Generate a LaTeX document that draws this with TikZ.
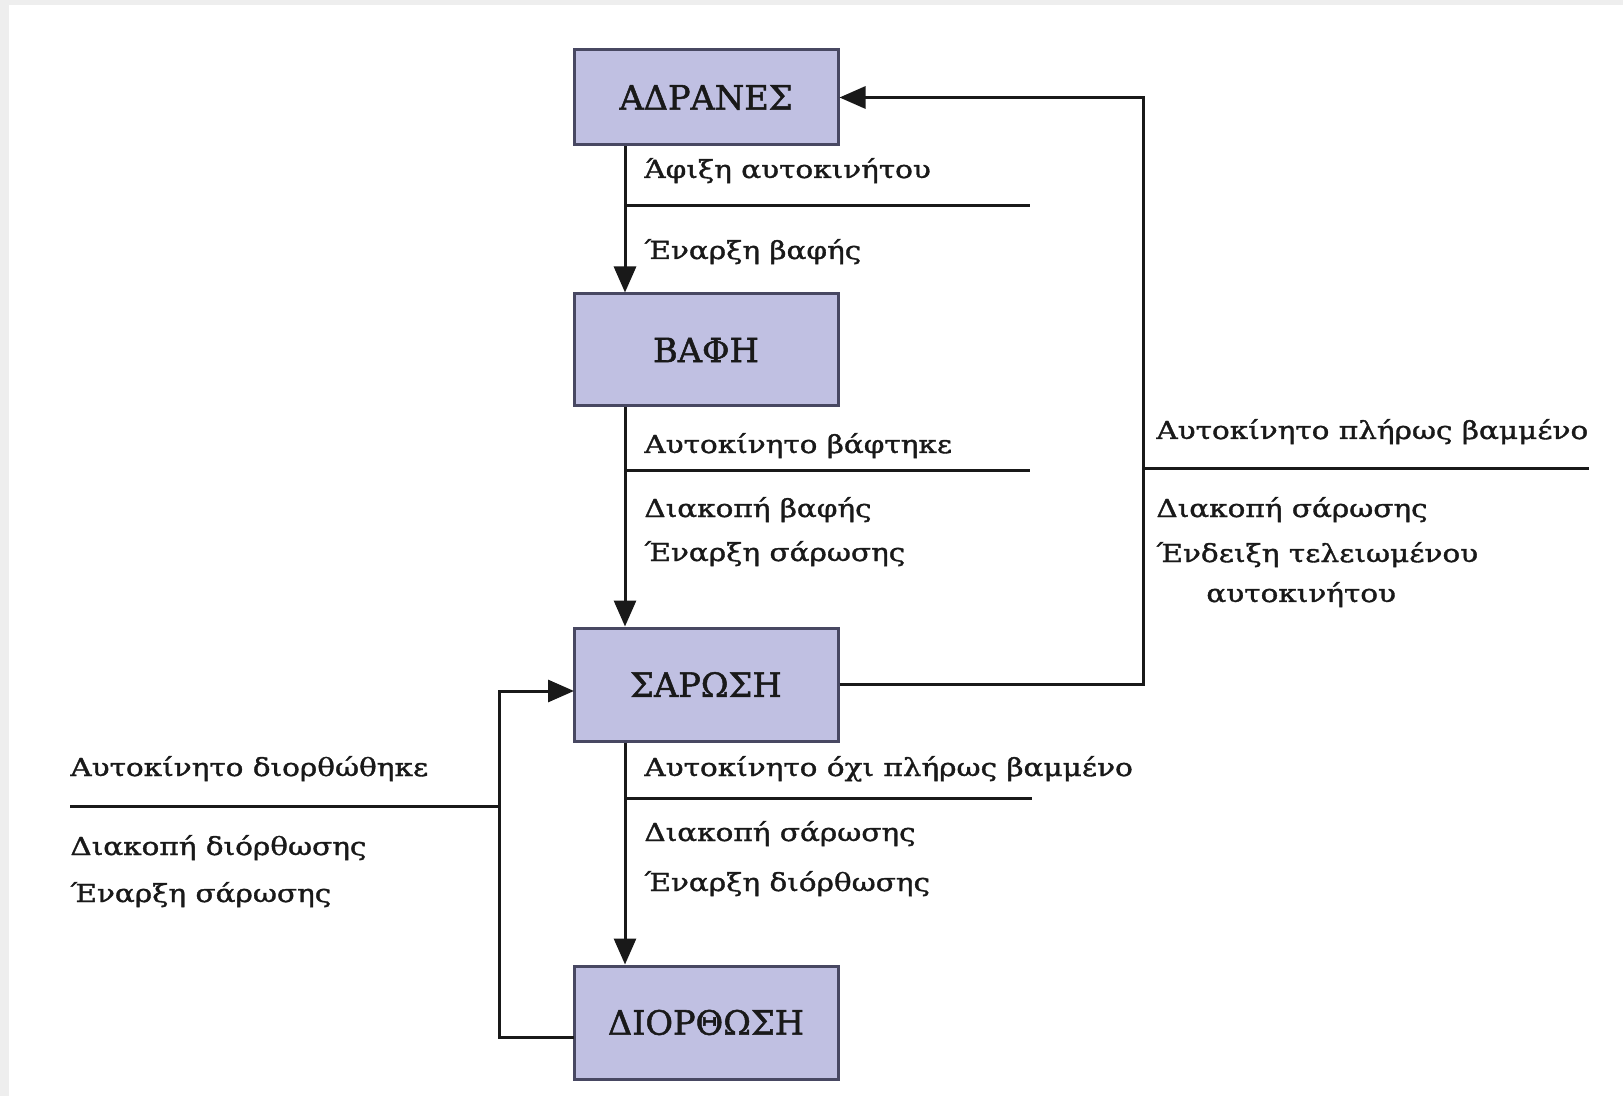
\documentclass[tikz,border=0pt]{standalone}
\usepackage{fontspec}
\usetikzlibrary{arrows.meta}
\setmainfont{DejaVu Serif}
\newfontfamily\lblfont[FakeStretch=1.19,FakeBold=1.4]{DejaVu Serif}
\newfontfamily\statefont[FakeBold=1.5]{DejaVu Serif}
\definecolor{boxfill}{RGB}{192,192,226}
\definecolor{boxline}{RGB}{72,72,98}
\definecolor{ink}{RGB}{25,25,25}
\definecolor{frame}{RGB}{238,238,238}
\begin{document}
\begin{tikzpicture}[x=0.5pt,y=-0.5pt,
  state/.style={draw=boxline,fill=boxfill,line width=1.5pt,minimum width=132pt,
    inner sep=0pt,font=\statefont\fontsize{16.8}{18}\selectfont,text=ink},
  wire/.style={draw=ink,line width=1.5pt},
  arr/.style={wire,-{Triangle[length=13pt,width=11pt]}},
  lbl/.style={anchor=base west,inner sep=0pt,text=ink,font=\lblfont\fontsize{12.4}{14}\selectfont}]
% page and its grey frame
\fill[frame] (0,0) rectangle (1623,1096);
\fill[white] (9,5) rectangle (1623,1096);
\useasboundingbox (0,0) rectangle (1623,1096);

% states
\node[state,minimum height=47.5pt] (adr) at (706,97.5) {ΑΔΡΑΝΕΣ};
\node[state,minimum height=56pt] (vafi) at (706,350) {ΒΑΦΗ};
\node[state,minimum height=56.5pt] (sar) at (706,684.5) {ΣΑΡΩΣΗ};
\node[state,minimum height=56.5pt] (dior) at (706,1022.5) {ΔΙΟΡΘΩΣΗ};

% main vertical flow
\coordinate (vx) at (625,0);
\draw[arr] (adr.south -| vx) -- (vafi.north -| vx);
\draw[arr] (vafi.south -| vx) -- (sar.north -| vx);
\draw[arr] (sar.south -| vx) -- (dior.north -| vx);

% return to idle
\coordinate (rx) at (1143,0);
\draw[arr] (sar.east) -- (sar.east -| rx) -- (adr.east -| rx) -- (adr.east);

% return from correction to scanning
\coordinate (lx) at (499,0);
\coordinate (dout) at (574,1037);
\coordinate (sin) at (574,691);
\draw[arr] (dout) -- (dout -| lx) -- (sin -| lx) -- (sin);

% event / action separators
\coordinate (s1a) at (625,206);  \coordinate (s1b) at (1030,206);
\coordinate (s2a) at (625,471);  \coordinate (s2b) at (1030,471);
\coordinate (s3a) at (625,798);  \coordinate (s3b) at (1032,798);
\coordinate (s4a) at (1143,469); \coordinate (s4b) at (1589,469);
\coordinate (s5a) at (70,806);   \coordinate (s5b) at (499,806);
\draw[wire] (s1a) -- (s1b);
\draw[wire] (s2a) -- (s2b);
\draw[wire] (s3a) -- (s3b);
\draw[wire] (s4a) -- (s4b);
\draw[wire] (s5a) -- (s5b);

% labels
\node[lbl] (t1) at (644,178) {Άφιξη αυτοκινήτου};
\node[lbl] (t2) at (644,259) {Έναρξη βαφής};
\node[lbl] (t3) at (644,453) {Αυτοκίνητο βάφτηκε};
\node[lbl] (t4) at (644,517) {Διακοπή βαφής};
\node[lbl] (t5) at (644,561) {Έναρξη σάρωσης};
\node[lbl] (t6) at (1156,439) {Αυτοκίνητο πλήρως βαμμένο};
\node[lbl] (t7) at (1156,517) {Διακοπή σάρωσης};
\node[lbl] (t8) at (1156,562) {Ένδειξη τελειωμένου};
\node[lbl] (t9) at (1206,602) {αυτοκινήτου};
\node[lbl] (t10) at (70,776) {Αυτοκίνητο διορθώθηκε};
\node[lbl] (t11) at (70,855) {Διακοπή διόρθωσης};
\node[lbl] (t12) at (70,902) {Έναρξη σάρωσης};
\node[lbl] (t13) at (644,776) {Αυτοκίνητο όχι πλήρως βαμμένο};
\node[lbl] (t14) at (644,841) {Διακοπή σάρωσης};
\node[lbl] (t15) at (644,891) {Έναρξη διόρθωσης};
\end{tikzpicture}
\end{document}
